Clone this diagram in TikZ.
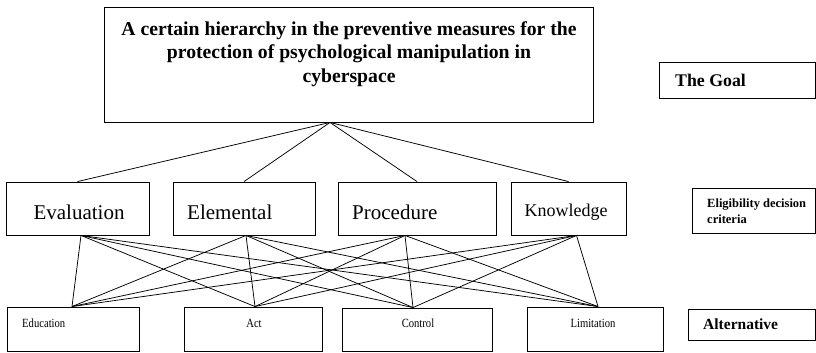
\documentclass[tikz,border=0pt]{standalone}
\usepackage{fontspec}
\setmainfont{Liberation Serif}
\newfontfamily\condensed[FakeStretch=0.85]{Liberation Serif}
\begin{document}
\begin{tikzpicture}[x=1pt,y=-1pt,
  box/.style={draw, line width=0.9pt, inner sep=0pt},
  conn/.style={line width=0.75pt},
  txt/.style={inner sep=0pt},
  crit/.style={txt, font=\fontsize{21}{25}\selectfont},
  alttxt/.style={txt, font=\condensed\fontsize{12.5}{15}\selectfont}]
\useasboundingbox (0,0) rectangle (816,353);
% goal
\node[box, minimum width=489pt, minimum height=115pt] (goal) at (348.5,64.5) {};
\node[txt, align=center, font=\fontsize{19.7}{23.5}\selectfont\bfseries] (title) at (349,54)
  {A certain hierarchy in the preventive measures for the\\protection of psychological manipulation in\\cyberspace};
% criteria
\node[box, minimum width=143pt, minimum height=53pt] (eva) at (77.5,208.5) {};
\node[box, minimum width=142pt, minimum height=53pt] (ele) at (244,208.5) {};
\node[box, minimum width=158pt, minimum height=53pt] (pro) at (417,208.5) {};
\node[box, minimum width=115pt, minimum height=53pt] (kno) at (568.5,208.5) {};
\node[crit] (evaT) at (79,212) {Evaluation};
\node[crit, anchor=west] (eleT) at (187,212) {Elemental};
\node[crit, anchor=west] (proT) at (352,212) {Procedure};
\node[txt, font=\fontsize{18}{22}\selectfont] (knoT) at (566,212) {Knowledge};
% alternatives
\node[box, minimum width=132pt, minimum height=44pt] (edu) at (73,329) {};
\node[box, minimum width=138pt, minimum height=44pt] (act) at (253,329) {};
\node[box, minimum width=150pt, minimum height=43pt] (con) at (417,329.5) {};
\node[box, minimum width=136pt, minimum height=44pt] (lim) at (595,329) {};
\node[alttxt, anchor=west] (eduT) at (22,323) {Education};
\node[alttxt] (actT) at (254,323) {Act};
\node[alttxt] (conT) at (418,323) {Control};
\node[alttxt] (limT) at (593,323) {Limitation};
% level labels
\node[box, minimum width=156pt, minimum height=36pt] (lgoal) at (737,80) {};
\node[txt, anchor=west, font=\fontsize{17.8}{20}\selectfont\bfseries] (lgoalT) at (675,80) {The Goal};
\node[box, minimum width=123pt, minimum height=45pt] (lelig) at (753.5,210.5) {};
\node[txt, anchor=west, align=left, font=\fontsize{12.5}{16}\selectfont\bfseries] (leligT) at (707,211) {Eligibility decision\\criteria};
\node[box, minimum width=127pt, minimum height=31pt] (lalt) at (751.5,324.5) {};
\node[txt, anchor=west, font=\fontsize{15.5}{18}\selectfont\bfseries] (laltT) at (703,324) {Alternative};
% connection points
\coordinate (apex) at ([xshift=-18.5pt]goal.south);
\coordinate (evaB) at ([xshift=3.5pt]eva.south);
\coordinate (eleB) at ([xshift=2pt]ele.south);
\coordinate (proB) at ([xshift=-12pt]pro.south);
\coordinate (knoB) at ([xshift=8pt]kno.south);
\coordinate (eduP) at ([xshift=-1pt]edu.north);
\coordinate (actP) at ([xshift=2pt]act.north);
\coordinate (conP) at ([xshift=-4pt]con.north);
\coordinate (limP) at ([xshift=3pt]lim.north);
% goal to criteria
\foreach \c in {eva,ele,pro,kno} \draw[conn] (apex) -- (\c.north);
% criteria to alternatives
\foreach \c in {evaB,eleB,proB,knoB}
  \foreach \a in {eduP,actP,conP,limP}
    \draw[conn] (\c) -- (\a);
\end{tikzpicture}
\end{document}
